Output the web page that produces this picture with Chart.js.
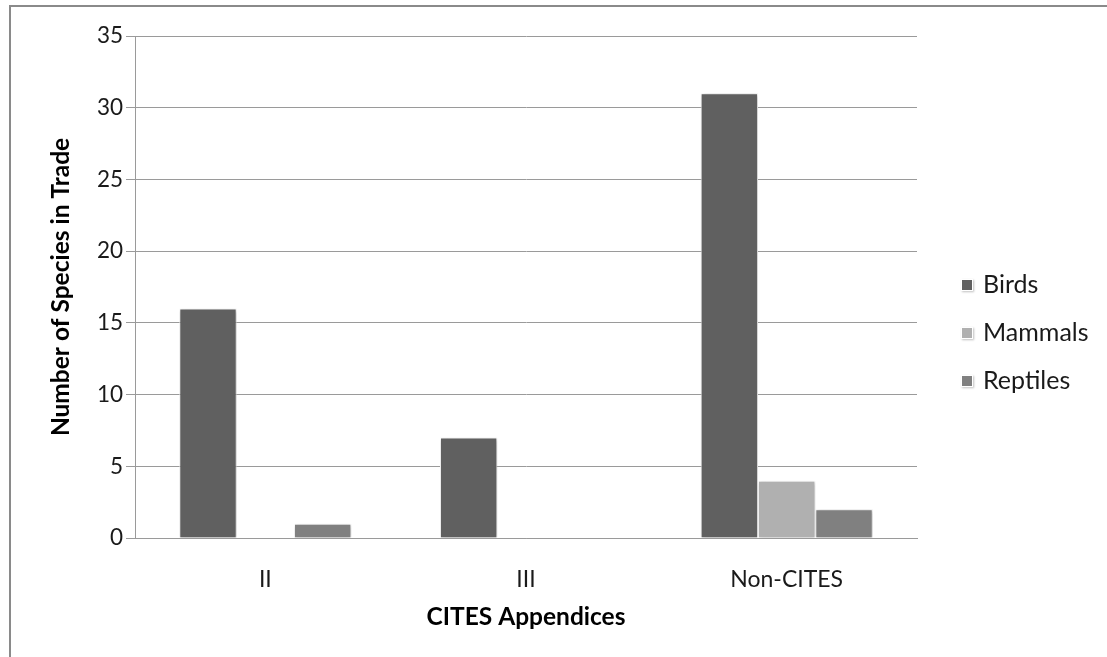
<!DOCTYPE html>
<html><head><meta charset="utf-8">
<script src="https://cdn.jsdelivr.net/npm/chart.js@4/dist/chart.umd.min.js"></script>
<style>
html,body{margin:0;padding:0;background:#fff;}
#wrap{position:relative;width:1107px;height:657px;overflow:hidden;}
#frame{position:absolute;left:9px;top:5px;right:-5px;bottom:-5px;border-left:2px solid #8a8a8a;border-top:2px solid #8a8a8a;pointer-events:none;}
canvas{display:block}
</style></head><body>
<div id="wrap"><canvas id="c" width="1107" height="657"></canvas><div id="frame"></div></div>
<script>
const categories = ['II', 'III', 'Non-CITES'];
const seriesNames = ['Birds', 'Mammals', 'Reptiles'];
const birds = [16, 7, 31];
const mammals = [0, 0, 4];
const reptiles = [1, 0, 2];
const seriesColors = ['#606060', '#b0b0b0', '#808080'];
const yMin = 0, yMax = 35, yStep = 5;
const xTitle = 'CITES Appendices';
const yTitle = 'Number of Species in Trade';

const FONT = 'Lato, "Open Sans", sans-serif';
const GRID = '#9a9a9a';

const shadowPlugin = {
  id: 'barShadow',
  beforeDatasetsDraw(chart) {
    const ctx = chart.ctx;
    ctx.save();
    ctx.shadowColor = 'rgba(0,0,0,0.28)';
    ctx.shadowBlur = 4;
    ctx.shadowOffsetX = 1;
    ctx.shadowOffsetY = 1;
  },
  afterDatasetsDraw(chart) { chart.ctx.restore(); }
};

const legendPlugin = {
  id: 'sideLegend',
  afterDraw(chart) {
    const ctx = chart.ctx;
    const x0 = chart.chartArea.right + 44;
    const yc = 333, gap = 48;
    const ds = chart.data.datasets;
    ctx.save();
    ds.forEach((d, i) => {
      const y = yc + (i - (ds.length - 1) / 2) * gap;
      ctx.shadowColor = 'rgba(0,0,0,0.25)';
      ctx.shadowBlur = 2; ctx.shadowOffsetX = 1; ctx.shadowOffsetY = 1;
      ctx.fillStyle = d.backgroundColor;
      ctx.fillRect(x0, y - 6, 12, 12);
      ctx.shadowColor = 'transparent';
      ctx.strokeStyle = '#ffffff'; ctx.lineWidth = 1;
      ctx.strokeRect(x0 + 0.5, y - 5.5, 11, 11);
      ctx.fillStyle = '#1a1a1a';
      ctx.font = '25px ' + FONT;
      ctx.textBaseline = 'middle';
      ctx.textAlign = 'left';
      ctx.fillText(d.label, x0 + 22, y);
    });
    ctx.restore();
  }
};

const seriesValues = [birds, mammals, reptiles];
new Chart(document.getElementById('c'), {
  type: 'bar',
  data: {
    labels: categories,
    datasets: seriesNames.map((n, i) => ({
      label: n,
      data: seriesValues[i],
      backgroundColor: seriesColors[i],
      borderColor: '#ffffff',
      borderWidth: 1,
      categoryPercentage: 0.66,
      barPercentage: 1.0
    }))
  },
  options: {
    responsive: false,
    animation: false,
    layout: { padding: { top: 36, right: 190, bottom: 0, left: 0 } },
    plugins: { legend: { display: false }, tooltip: { enabled: false } },
    scales: {
      x: {
        grid: { display: false, drawTicks: false },
        border: { display: true, color: GRID, width: 1 },
        ticks: { color: '#1a1a1a', font: { family: FONT, size: 23 }, padding: 28 },
        title: { display: true, text: xTitle, color: '#000', font: { family: FONT, size: 24.5, weight: 'bold' }, padding: { top: 0, bottom: 25 } },
        afterFit(s) { s.height = 119; }
      },
      y: {
        min: yMin, max: yMax,
        ticks: { stepSize: yStep, color: '#1a1a1a', font: { family: FONT, size: 22.5 }, padding: 3 },
        grid: { color: GRID, lineWidth: 1, tickLength: 9, tickColor: GRID },
        border: { display: true, color: GRID, width: 1 },
        title: { display: true, text: yTitle, color: '#000', font: { family: FONT, size: 24.5, weight: 'bold' }, padding: { top: 46, bottom: 0 } },
        afterFit(s) { s.width = 135; }
      }
    }
  },
  plugins: [shadowPlugin, legendPlugin]
});
</script>
</body></html>
